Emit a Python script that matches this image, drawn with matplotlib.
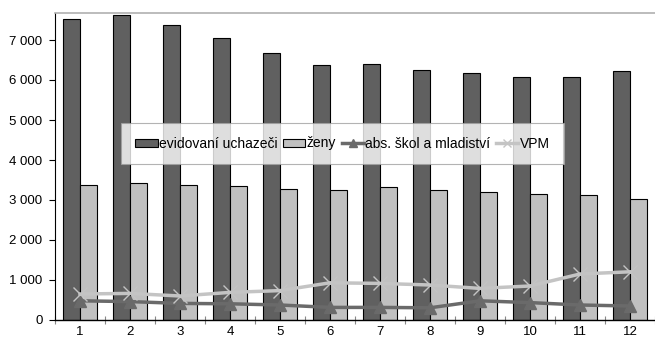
import matplotlib
matplotlib.use("Agg")
import matplotlib.pyplot as plt
import numpy as np
from matplotlib.ticker import FuncFormatter, FixedLocator

plt.rcParams['font.family'] = ['Liberation Sans', 'DejaVu Sans']

categories = ['1', '2', '3', '4', '5', '6', '7', '8', '9', '10', '11', '12']
evidovani = [7520, 7620, 7380, 7040, 6680, 6380, 6390, 6240, 6170, 6070, 6070, 6220]
zeny = [3370, 3425, 3370, 3360, 3285, 3250, 3315, 3250, 3210, 3150, 3135, 3020]
absolventi = [480, 460, 415, 405, 375, 315, 315, 305, 480, 435, 375, 350]
vpm = [650, 665, 600, 690, 735, 930, 915, 875, 790, 850, 1150, 1205]
yticks = [0, 1000, 2000, 3000, 4000, 5000, 6000, 7000]

W, H = 655, 338
fig = plt.figure(figsize=(W/100, H/100), dpi=100)
ax = fig.add_axes([55/W, (H-320)/H, 600/W, (320-13)/H])

x = np.arange(len(categories))
bw = 0.34
b1 = ax.bar(x - bw/2, evidovani, bw, color='#606060', edgecolor='black', linewidth=0.8,
            label='evidovaní uchazeči', zorder=2)
b2 = ax.bar(x + bw/2, zeny, bw, color='#c0c0c0', edgecolor='black', linewidth=0.8,
            label='ženy', zorder=2)
l1, = ax.plot(x, absolventi, color='#6a6a6a', linewidth=2.5, marker='^', markersize=9,
              markerfacecolor='#6a6a6a', markeredgecolor='#6a6a6a',
              label='abs. škol a mladiství', zorder=3)
l2, = ax.plot(x, vpm, color='#c4c4c4', linewidth=2.5, marker='x', markersize=10,
              markeredgewidth=1.0, label='VPM', zorder=3)

ax.set_xlim(-0.5, len(categories) - 0.5)
ax.set_ylim(0, 7675)
ax.set_yticks(yticks)
ax.yaxis.set_major_formatter(FuncFormatter(lambda v, p: f"{int(v):,}".replace(',', ' ')))
ax.set_xticks(x)
ax.set_xticklabels(categories)
ax.xaxis.set_minor_locator(FixedLocator(np.arange(-0.5, len(categories), 1.0)))
ax.tick_params(axis='x', which='major', length=0, pad=4.5, labelsize=9.5)
ax.tick_params(axis='x', which='minor', length=6, direction='inout', width=0.8, color='#888888')
ax.tick_params(axis='y', which='major', length=4, direction='out', width=0.8, labelsize=9.5, pad=5)

ax.spines['right'].set_visible(False)
ax.spines['top'].set_color('#b0b0b0')
ax.spines['top'].set_linewidth(1.2)
ax.spines['left'].set_linewidth(0.8)
ax.spines['bottom'].set_linewidth(1.0)

leg = ax.legend(handles=[b1, b2, l1, l2], ncol=4, loc='center',
                bbox_to_anchor=((122 - 55 + (563 - 122) / 2) / 600, (320 - 143.5) / 307),
                frameon=True, fancybox=False, fontsize=10, handlelength=1.6, handletextpad=0.1,
                columnspacing=0.4, borderpad=1.0, handleheight=0.5, markerscale=0.6)
leg.get_frame().set_edgecolor('#a0a0a0')
leg.get_frame().set_linewidth(0.8)
leg.set_zorder(5)

fig.savefig('out.png', dpi=100)
